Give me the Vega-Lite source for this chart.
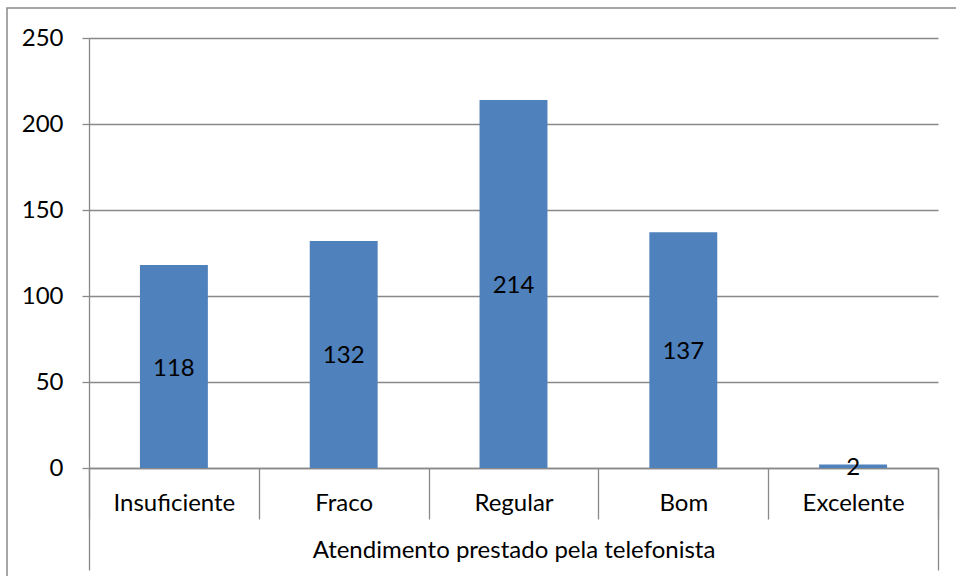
{
  "$schema": "https://vega.github.io/schema/vega-lite/v6.json",
  "width": 961,
  "height": 580,
  "autosize": {"type": "none"},
  "padding": {"left": 7, "top": 8, "right": -12, "bottom": -12},
  "background": "white",
  "config": {
    "view": {"stroke": "#898989", "strokeWidth": 1.5},
    "font": "Lato",
    "axis": {
      "labelFont": "Lato",
      "labelFontSize": 24,
      "labelColor": "#000000",
      "domainColor": "#898989",
      "tickColor": "#898989",
      "gridColor": "#898989",
      "domainWidth": 1.3,
      "tickWidth": 1.3,
      "gridWidth": 1.3,
      "labelLimit": 1000,
      "title": null
    }
  },
  "layer": [
    {
      "data": {
        "values": [
          {"categoria": "Insuficiente", "valor": 118},
          {"categoria": "Fraco", "valor": 132},
          {"categoria": "Regular", "valor": 214},
          {"categoria": "Bom", "valor": 137},
          {"categoria": "Excelente", "valor": 2}
        ]
      },
      "layer": [
        {
          "mark": {"type": "bar", "color": "#4F81BD", "width": {"band": 0.4}},
          "encoding": {
            "x": {
              "field": "categoria",
              "type": "nominal",
              "sort": null,
              "scale": {"range": [82, 931], "paddingInner": 0, "paddingOuter": 0},
              "axis": {
                "orient": "bottom",
                "offset": -120,
                "tickBand": "extent",
                "tickSize": 51,
                "labelPadding": -16,
                "labelBaseline": "middle",
                "labelAngle": 0,
                "labelOverlap": false,
                "grid": false,
                "domain": true
              }
            },
            "y": {
              "field": "valor",
              "type": "quantitative",
              "scale": {"domain": [0, 250], "range": [460, 30], "nice": false},
              "axis": {
                "orient": "left",
                "offset": -82,
                "values": [0, 50, 100, 150, 200, 250],
                "tickSize": 7,
                "labelPadding": 19,
                "grid": true,
                "domain": true
              }
            }
          }
        },
        {
          "mark": {"type": "text", "font": "Lato", "fontSize": 24, "color": "#000000", "dy": 2},
          "encoding": {
            "x": {"field": "categoria", "type": "nominal", "sort": null},
            "y": {"field": "valor", "type": "quantitative", "stack": "zero", "bandPosition": 0.5},
            "text": {"field": "valor", "type": "quantitative"}
          }
        }
      ]
    },
    {
      "data": {"values": [{"grupo": "Atendimento prestado pela telefonista"}]},
      "mark": {"type": "bar", "opacity": 0},
      "encoding": {
        "x": {
          "field": "grupo",
          "type": "nominal",
          "scale": {"range": [82, 931], "paddingInner": 0, "paddingOuter": 0},
          "axis": {
            "orient": "bottom",
            "offset": -120,
            "tickBand": "extent",
            "tickSize": 102,
            "labelPadding": -20,
            "labelBaseline": "middle",
            "labelAngle": 0,
            "domain": false,
            "grid": false
          }
        }
      }
    }
  ],
  "resolve": {"scale": {"x": "independent"}, "axis": {"x": "independent"}}
}
